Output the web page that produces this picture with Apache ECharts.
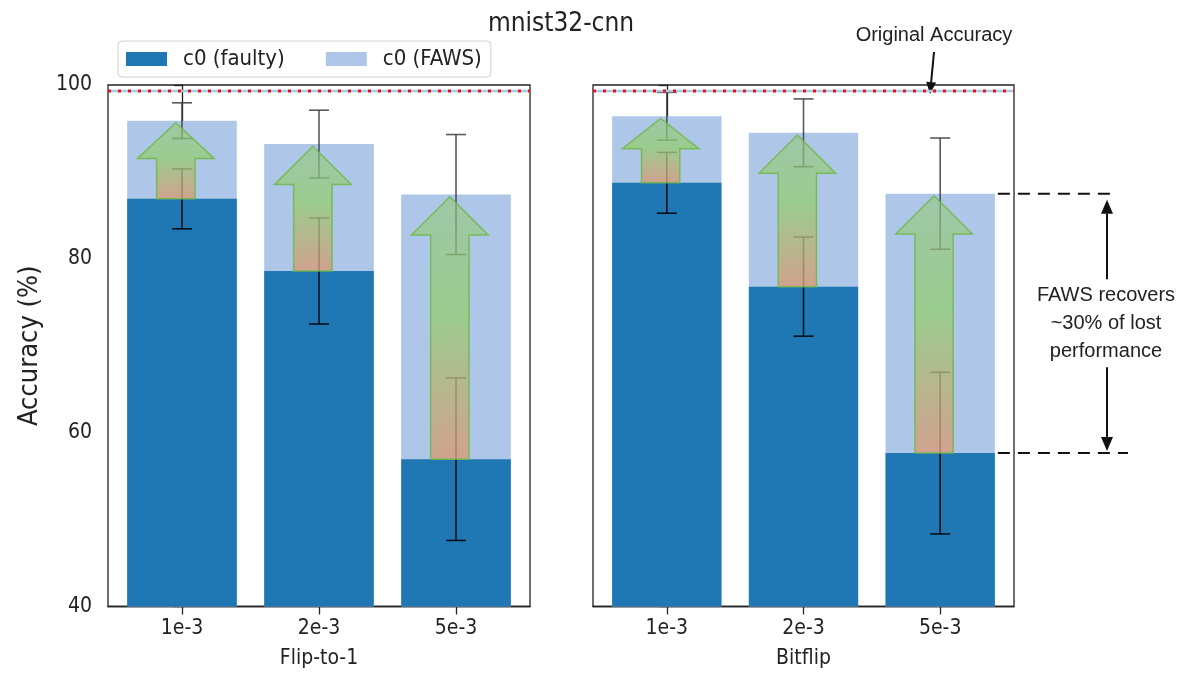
<!DOCTYPE html>
<html>
<head>
<meta charset="utf-8">
<script src="https://cdn.jsdelivr.net/npm/echarts@6/dist/echarts.min.js"></script>
<style>
html, body { margin: 0; padding: 0; background: #fff; }
#chart { width: 1181px; height: 674px; }
</style>
</head>
<body>
<div id="chart"></div>
<script>
var rateLabels = ['1e-3', '2e-3', '5e-3'];
var panelNames = ['Flip-to-1', 'Bitflip'];

// Flip-to-1 panel
var flipFaulty = [86.9, 78.6, 56.95];
var flipFaultyErr = [3.45, 6.1, 9.35];
var flipFaws = [95.9, 93.2, 87.4];
var flipFawsErr = [2.05, 3.9, 6.9];

// Bitflip panel
var bitFaulty = [88.75, 76.8, 57.65];
var bitFaultyErr = [3.5, 5.7, 9.3];
var bitFaws = [96.4, 94.5, 87.5];
var bitFawsErr = [2.75, 3.9, 6.4];

var originalAcc = 99.3;
var xLim = [-0.54, 2.54];

var tickFont = "'DejaVu Sans Condensed', 'Liberation Sans', sans-serif";
var noteFont = "'Liberation Sans', Arial, sans-serif";
var faultyColor = '#1f77b4';
var fawsColor = '#aec7e8';

var chart = echarts.init(document.getElementById('chart'));

function pairs(values) {
	return values.map(function (v, i) { return [i, v]; });
}

function triples(a, b) {
	return a.map(function (v, i) { return [i, v, b[i]]; });
}

function barItem(color) {
	return function (params, api) {
		var x = api.value(0), v = api.value(1);
		var p0 = api.coord([x - 0.4, v]);
		var p1 = api.coord([x + 0.4, 40]);
		return {
			type: 'rect',
			shape: { x: p0[0], y: p0[1], width: p1[0] - p0[0], height: p1[1] - p0[1] },
			style: { fill: color }
		};
	};
}

function errItem(color) {
	return function (params, api) {
		var x = api.value(0), v = api.value(1), e = api.value(2);
		var top = api.coord([x, v + e]);
		var bot = api.coord([x, v - e]);
		var st = { stroke: color, lineWidth: 1.6 };
		return {
			type: 'group',
			children: [
				{ type: 'line', shape: { x1: top[0], y1: top[1], x2: bot[0], y2: bot[1] }, style: st },
				{ type: 'line', shape: { x1: top[0] - 10, y1: top[1], x2: top[0] + 10, y2: top[1] }, style: st },
				{ type: 'line', shape: { x1: bot[0] - 10, y1: bot[1], x2: bot[0] + 10, y2: bot[1] }, style: st }
			]
		};
	};
}

function arrowItem(params, api) {
	var xc = api.value(0) - 0.045;
	var base = api.value(1);
	var tip = api.value(2) - 0.25;
	var head = Math.min(4.4, 0.47 * (tip - base));
	var pts = [
		[xc - 0.14, base], [xc - 0.14, tip - head], [xc - 0.28, tip - head],
		[xc, tip], [xc + 0.28, tip - head], [xc + 0.14, tip - head], [xc + 0.14, base]
	].map(function (p) { return api.coord(p); });
	return {
		type: 'polygon',
		shape: { points: pts },
		style: {
			fill: new echarts.graphic.LinearGradient(0, 0, 0, 1, [
				{ offset: 0, color: 'rgba(150,200,125,0.6)' },
				{ offset: 0.45, color: 'rgba(150,205,120,0.8)' },
				{ offset: 1, color: 'rgba(218,152,118,0.78)' }
			]),
			stroke: 'rgba(110,185,70,0.85)',
			lineWidth: 1.5
		}
	};
}

function panelSeries(k, faulty, faultyErr, faws, fawsErr) {
	return [
		{ name: 'c0 (FAWS)', type: 'custom', xAxisIndex: k, yAxisIndex: k, itemStyle: { color: fawsColor },
			renderItem: barItem(fawsColor), data: pairs(faws), z: 1 },
		{ name: 'c0 (faulty)', type: 'custom', xAxisIndex: k, yAxisIndex: k, itemStyle: { color: faultyColor },
			renderItem: barItem(faultyColor), data: pairs(faulty), z: 2 },
		{ name: 'fawsErr' + k, type: 'custom', xAxisIndex: k, yAxisIndex: k,
			renderItem: errItem('rgba(60,60,60,0.85)'), data: triples(faws, fawsErr), z: 3 },
		{ name: 'faultyErr' + k, type: 'custom', xAxisIndex: k, yAxisIndex: k,
			renderItem: errItem('rgba(0,0,0,0.85)'), data: triples(faulty, faultyErr), z: 3 },
		{ name: 'arrow' + k, type: 'custom', xAxisIndex: k, yAxisIndex: k,
			renderItem: arrowItem, data: triples(faulty, faws), z: 4 },
		{ name: 'origBase' + k, type: 'line', xAxisIndex: k, yAxisIndex: k, symbol: 'none', silent: true,
			lineStyle: { color: '#a3cbe6', width: 2.5 }, data: [[xLim[0], originalAcc], [xLim[1], originalAcc]], z: 5 },
		{ name: 'orig' + k, type: 'line', xAxisIndex: k, yAxisIndex: k, symbol: 'none', silent: true,
			lineStyle: { color: '#e8141c', width: 3, type: [3, 7] }, data: [[xLim[0], originalAcc], [xLim[1], originalAcc]], z: 6 }
	];
}

function xAxisFor(k) {
	return {
		gridIndex: k, type: 'value', min: xLim[0], max: xLim[1],
		axisLine: { show: true, lineStyle: { color: '#222', width: 1.3 } },
		axisTick: { show: true, customValues: [0, 1, 2], length: 8, lineStyle: { color: '#222', width: 1.3 } },
		axisLabel: { customValues: [0, 1, 2], formatter: function (v) { return rateLabels[v]; },
			fontSize: 21, color: '#222', margin: 12, fontFamily: tickFont },
		splitLine: { show: false },
		name: panelNames[k], nameLocation: 'middle', nameGap: 52,
		nameTextStyle: { fontSize: 21, color: '#222', verticalAlign: 'middle', fontFamily: tickFont }
	};
}

function yAxisFor(k) {
	return {
		gridIndex: k, type: 'value', min: 40, max: 100, interval: 20,
		axisLine: { show: true, lineStyle: { color: '#222', width: 1.3 } },
		axisTick: { show: true, length: 8, lineStyle: { color: '#222', width: 1.3 } },
		axisLabel: { show: k === 0, fontSize: 21, color: '#222', margin: 16, fontFamily: tickFont },
		splitLine: { show: false },
		name: k === 0 ? 'Accuracy (%)' : '', nameLocation: 'middle', nameGap: 78,
		nameTextStyle: { fontSize: 27, color: '#222', verticalAlign: 'middle', fontFamily: tickFont }
	};
}

var option = {
	animation: false,
	backgroundColor: '#fff',
	legend: {
		left: 118, top: 41,
		data: ['c0 (faulty)', 'c0 (FAWS)'],
		icon: 'rect', itemWidth: 41, itemHeight: 14, itemGap: 41,
		padding: [7, 9, 7, 8],
		borderColor: '#d0d0d0', borderWidth: 1, borderRadius: 4,
		textStyle: { fontSize: 22, color: '#222', padding: [0, 0, 0, 11], lineHeight: 22, fontFamily: tickFont }
	},
	grid: [
		{ left: 108, top: 85, width: 422, height: 527, show: true, borderColor: '#222', borderWidth: 1.3 },
		{ left: 593, top: 85, width: 421, height: 527, show: true, borderColor: '#222', borderWidth: 1.3 }
	],
	xAxis: [xAxisFor(0), xAxisFor(1)],
	yAxis: [yAxisFor(0), yAxisFor(1)],
	series: panelSeries(0, flipFaulty, flipFaultyErr, flipFaws, flipFawsErr)
		.concat(panelSeries(1, bitFaulty, bitFaultyErr, bitFaws, bitFawsErr))
};

chart.setOption(option);

function arrow(x1, y1, x2, y2, len, half) {
	var a = Math.atan2(y2 - y1, x2 - x1);
	var bx = x2 - len * Math.cos(a), by = y2 - len * Math.sin(a);
	var nx = -Math.sin(a) * half, ny = Math.cos(a) * half;
	return [
		{ type: 'line', shape: { x1: x1, y1: y1, x2: bx, y2: by }, style: { stroke: '#111', lineWidth: 2 } },
		{ type: 'polygon', shape: { points: [[x2, y2], [bx + nx, by + ny], [bx - nx, by - ny]] }, style: { fill: '#111' } }
	];
}

var origY = chart.convertToPixel({ gridIndex: 1 }, [0, originalAcc])[1];
var topP = chart.convertToPixel({ gridIndex: 1 }, [2.4, bitFaws[2]]);
var botP = chart.convertToPixel({ gridIndex: 1 }, [2.4, bitFaulty[2]]);
var midY = (topP[1] + botP[1]) / 2;
var dash = { stroke: '#111', lineWidth: 2, lineDash: [12, 8] };

var elements = [
	{ type: 'text', x: 561, y: 24, style: { text: 'mnist32-cnn', fontSize: 26, fontFamily: tickFont, fill: '#222', align: 'center', verticalAlign: 'middle' } },
	{ type: 'text', x: 934, y: 35, style: { text: 'Original Accuracy', fontSize: 20, fontFamily: noteFont, fill: '#222', align: 'center', verticalAlign: 'middle' } },
	{ type: 'line', shape: { x1: topP[0] + 3, y1: topP[1], x2: 1117, y2: topP[1] }, style: dash },
	{ type: 'line', shape: { x1: botP[0] + 3, y1: botP[1], x2: 1128, y2: botP[1] }, style: dash },
	{ type: 'text', x: 1106, y: midY, style: { text: 'FAWS recovers\n~30% of lost\nperformance', fontSize: 20, lineHeight: 28,
		fontFamily: noteFont, fill: '#222', align: 'center', verticalAlign: 'middle' } }
]
	.concat(arrow(934, 52, 930, origY + 3, 12, 5))
	.concat(arrow(1107, midY - 44, 1107, topP[1] + 6, 14, 6))
	.concat(arrow(1107, midY + 44, 1107, botP[1] - 2, 14, 6));

chart.setOption({ graphic: { elements: elements } });
</script>
</body>
</html>
